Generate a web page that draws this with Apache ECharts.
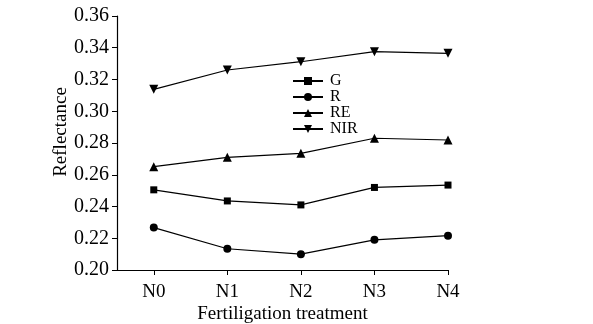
<!DOCTYPE html>
<html><head><meta charset="utf-8">
<script src="https://cdn.jsdelivr.net/npm/echarts@6/dist/echarts.min.js"></script>
<style>html,body{margin:0;padding:0;background:#fff}#c{width:593px;height:324px}</style>
</head><body><div id="c"></div>
<script>
var categories = ['N0','N1','N2','N3','N4'];
var G   = [0.2505, 0.2435, 0.2410, 0.2520, 0.2535];
var R   = [0.2267, 0.2134, 0.2100, 0.2190, 0.2216];
var RE  = [0.2651, 0.2710, 0.2735, 0.2830, 0.2819];
var NIR = [0.3138, 0.3260, 0.3312, 0.3375, 0.3365];
var yTicks = [0.20,0.22,0.24,0.26,0.28,0.30,0.32,0.34,0.36];

var font = '"Liberation Serif","Times New Roman",serif';
function toPts(arr){ return arr.map(function(v,i){ return [i, v]; }); }
function mk(name, data, symbol, size){
  return {name:name, type:'line', data:toPts(data), symbol:symbol, symbolSize:size,
    showAllSymbol:true, lineStyle:{color:'#000', width:1.2}, itemStyle:{color:'#000'}, animation:false};
}
var chart = echarts.init(document.getElementById('c'), null, {renderer:'canvas'});
chart.setOption({
  backgroundColor:'#fff',
  animation:false,
  grid:{left:117, right:145, top:16, bottom:54, containLabel:false, outerBoundsMode:'none'},
  legend:{
    orient:'vertical', left:287, top:68, itemWidth:30, itemHeight:10, itemGap:0,
    textStyle:{fontFamily:font, fontSize:16, lineHeight:10, color:'#000', padding:[0,0,0,2]},
    data:['G','R','RE','NIR']
  },
  xAxis:{
    type:'value', min:-0.5, max:4,
    name:'Fertiligation treatment', nameLocation:'middle', nameGap:35, nameMoveOverlap:false,
    nameTextStyle:{fontFamily:font, fontSize:19, color:'#000'},
    axisLine:{onZero:false, lineStyle:{color:'#000', width:1.2}},
    axisTick:{show:true, inside:false, length:5, customValues:[0,1,2,3,4], lineStyle:{color:'#000'}},
    axisLabel:{customValues:[0,1,2,3,4], fontFamily:font, fontSize:19, color:'#000', margin:13,
      formatter:function(v){ return categories[Math.round(v)]; }},
    splitLine:{show:false}
  },
  yAxis:{
    type:'value', min:0.20, max:0.36, interval:0.02,
    name:'Reflectance', nameLocation:'middle', nameGap:46, nameMoveOverlap:false,
    nameTextStyle:{fontFamily:font, fontSize:19, color:'#000', padding:[0,0,0,22]},
    axisLine:{show:true, onZero:false, lineStyle:{color:'#000', width:1.2}},
    axisTick:{show:true, length:5, lineStyle:{color:'#000'}},
    axisLabel:{fontFamily:font, fontSize:20, color:'#000', margin:8,
      formatter:function(v){ return v.toFixed(2); }},
    splitLine:{show:false}
  },
  series:[
    mk('G', G, 'rect', 7),
    mk('R', R, 'circle', 8),
    mk('RE', RE, 'triangle', 9),
    mk('NIR', NIR, 'path://M0,0 L10,0 L5,9 Z', 9)
  ]
});
</script></body></html>
